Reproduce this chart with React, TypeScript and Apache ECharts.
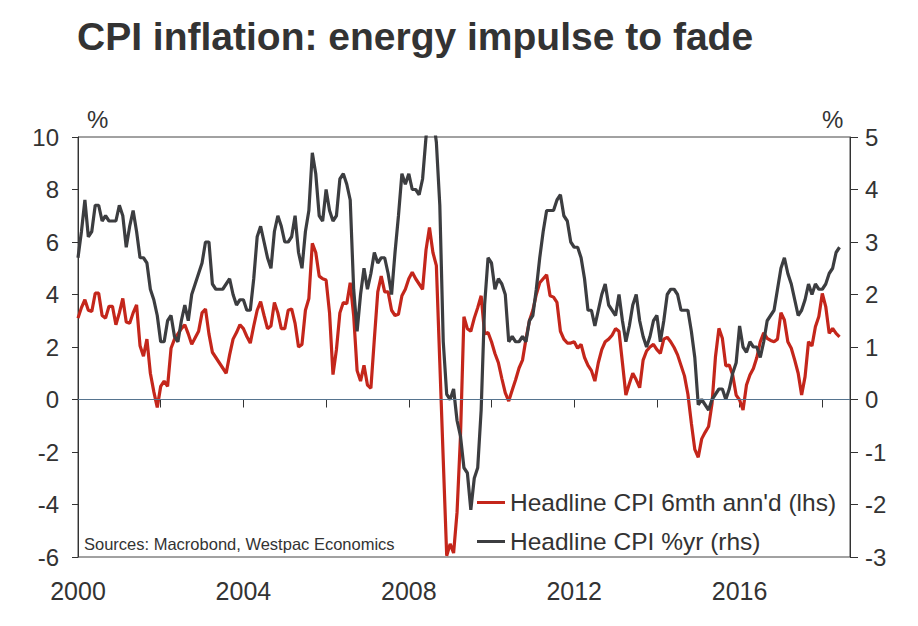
import React, { useEffect, useRef } from "react";
import * as echarts from "echarts";

const START_YEAR = 2000;

// Headline CPI 6mth annualised, % (lhs), monthly from Jan 2000
const headline6mAnn = [
  // 2000
  3.1, 3.5, 3.8, 3.4, 3.35, 4.05, 4.05, 3.2, 3.1, 3.55, 3.55, 2.85,
  // 2001
  3.3, 3.85, 2.95, 2.9, 3.3, 3.6, 2.05, 1.65, 2.3, 1.0, 0.3, -0.3,
  // 2002
  0.5, 0.7, 0.5, 1.95, 2.3, 2.5, 2.7, 2.85, 2.5, 2.1, 2.35, 2.6,
  // 2003
  3.3, 3.45, 2.5, 1.8, 1.6, 1.4, 1.2, 1.0, 1.7, 2.3, 2.55, 2.85,
  // 2004
  2.7, 2.4, 2.15, 2.8, 3.4, 3.73, 3.2, 2.7, 2.8, 3.7, 3.3, 2.7,
  // 2005
  2.7, 3.4, 3.45, 2.9, 2.0, 2.1, 3.4, 3.85, 5.95, 5.6, 4.7, 4.6,
  // 2006
  4.55, 3.3, 0.95, 1.9, 3.3, 3.7, 3.65, 4.45, 3.2, 1.1, 0.7, 1.3,
  // 2007
  0.55, 0.43, 2.3, 4.1, 4.7, 4.1, 4.1, 3.4, 3.2, 3.25, 3.95, 4.2,
  // 2008
  4.6, 4.85, 4.6, 4.4, 4.2, 5.7, 6.55, 5.6, 5.1, 1.4, -2.3, -5.95,
  // 2009
  -5.5, -5.85, -4.3, -1.4, 3.15, 2.7, 2.6, 3.1, 3.5, 3.95, 2.5, 2.55,
  // 2010
  2.2, 1.75, 1.4, 0.8, 0.25, -0.06, 0.35, 0.75, 1.2, 1.5, 2.3, 3.0,
  // 2011
  3.4, 4.0, 4.45, 4.6, 4.75, 3.95, 3.9, 3.7, 2.6, 2.3, 2.15, 2.15,
  // 2012
  2.2, 1.95, 2.1, 1.6, 1.3, 1.1, 0.7, 1.4, 1.9, 2.2, 2.3, 2.45,
  // 2013
  2.7, 2.6, 1.4, 0.17, 0.6, 1.0, 0.75, 0.45, 1.5, 1.85, 2.0, 2.1,
  // 2014
  1.9, 1.76, 2.3, 2.37, 2.2, 1.98, 1.7, 1.3, 0.9, 0.2, -0.9, -1.9,
  // 2015
  -2.2, -1.5, -1.25, -1.03, -0.15, 1.63, 2.71, 2.33, 1.28, 1.31, 0.93, 0.17,
  // 2016
  -0.02, -0.4, 0.55, 0.93, 1.18, 1.6, 2.2, 2.54, 2.33, 2.25, 2.2, 2.3,
  // 2017
  3.31, 3.03, 2.2, 1.95, 1.5, 1.0, 0.17, 0.87, 2.2, 2.04, 2.77, 3.16,
  // 2018
  4.04, 3.54, 2.52, 2.71, 2.52, 2.39,
];

// Headline CPI %yr (rhs), monthly from Jan 2000
const headlineYoY = [
  2.7, 3.2, 3.8, 3.1, 3.2, 3.7, 3.7, 3.4, 3.5, 3.4, 3.4, 3.4,
  3.7, 3.5, 2.9, 3.3, 3.6, 3.2, 2.7, 2.7, 2.6, 2.1, 1.9, 1.6,
  1.1, 1.1, 1.5, 1.6, 1.2, 1.1, 1.5, 1.8, 1.5, 2.0, 2.2, 2.4,
  2.6, 3.0, 3.0, 2.2, 2.1, 2.1, 2.1, 2.2, 2.3, 2.0, 1.8, 1.9,
  1.9, 1.7, 1.7, 2.3, 3.1, 3.3, 3.0, 2.7, 2.5, 3.2, 3.5, 3.3,
  3.0, 3.0, 3.1, 3.5, 2.8, 2.5, 3.2, 3.6, 4.7, 4.3, 3.5, 3.4,
  4.0, 3.6, 3.4, 3.5, 4.2, 4.3, 4.1, 3.8, 2.1, 1.3, 2.0, 2.5,
  2.1, 2.4, 2.8, 2.6, 2.7, 2.7, 2.4, 2.0, 2.8, 3.5, 4.3, 4.1,
  4.3, 4.0, 4.0, 3.9, 4.2, 5.0, 5.6, 5.4, 4.9, 3.7, 1.1, 0.1,
  0.0, 0.2, -0.4, -0.7, -1.3, -1.4, -2.1, -1.5, -1.3, -0.2, 1.8, 2.7,
  2.6, 2.1, 2.3, 2.2, 2.0, 1.1, 1.2, 1.1, 1.1, 1.2, 1.1, 1.5,
  1.6, 2.1, 2.7, 3.2, 3.6, 3.6, 3.6, 3.8, 3.9, 3.5, 3.4, 3.0,
  2.9, 2.9, 2.7, 2.3, 1.7, 1.7, 1.4, 1.7, 2.0, 2.2, 1.8, 1.7,
  1.6, 2.0, 1.5, 1.1, 1.4, 1.8, 2.0, 1.5, 1.2, 1.0, 1.2, 1.5,
  1.6, 1.1, 1.5, 2.0, 2.1, 2.1, 2.0, 1.7, 1.7, 1.7, 1.3, 0.8,
  -0.1, 0.0, -0.1, -0.2, 0.0, 0.1, 0.2, 0.2, 0.0, 0.2, 0.5, 0.7,
  1.4, 1.0, 0.9, 1.1, 1.0, 1.0, 0.8, 1.1, 1.5, 1.6, 1.7, 2.1,
  2.5, 2.7, 2.4, 2.2, 1.9, 1.6, 1.7, 1.9, 2.2, 2.0, 2.2, 2.1,
  2.1, 2.2, 2.4, 2.5, 2.8, 2.9,
];

const seriesNames = ["Headline CPI 6mth ann'd (lhs)", "Headline CPI %yr (rhs)"];
const titleText = "CPI inflation: energy impulse to fade";
const sourceText = "Sources: Macrobond, Westpac Economics";

const FONT = '"Liberation Sans", Arial, Helvetica, sans-serif';
const TEXT = "#333333";
const RED = "#c4261b";
const DARK = "#3c3d40";

const toPoints = (vals: number[]) =>
  vals.map((v, i) => [START_YEAR + i / 12, v]);

export default function App() {
  const ref = useRef<HTMLDivElement>(null);
  useEffect(() => {
    if (!ref.current) return;
    const chart = echarts.init(ref.current, null, { renderer: "svg" });
    const axisLabel = { fontSize: 24, color: TEXT, fontFamily: FONT };
    chart.setOption({
      animation: false,
      backgroundColor: "#ffffff",
      grid: {
        left: 78,
        right: 68,
        top: 137,
        bottom: 69,
        show: true,
        borderColor: "#444",
        borderWidth: 1,
        backgroundColor: "transparent",
      },
      xAxis: {
        type: "value",
        min: 2000,
        max: 2018.67,
        interval: 2,
        axisLine: { show: true, lineStyle: { color: "#333", width: 1 } },
        axisTick: { show: true, length: 8, lineStyle: { color: "#333" } },
        splitLine: { show: false },
        axisLabel: {
          ...axisLabel,
          fontSize: 25,
          margin: 21,
          showMaxLabel: false,
          formatter: (v: number) =>
            Math.abs(v % 4) < 1e-6 ? String(Math.round(v)) : "",
        },
      },
      yAxis: [
        {
          type: "value",
          min: -6,
          max: 10,
          interval: 2,
          position: "left",
          axisLine: { show: true, lineStyle: { color: "#333" } },
          axisTick: { show: true, length: 6, lineStyle: { color: "#333" } },
          splitLine: { show: false },
          axisLabel: { ...axisLabel, margin: 19 },
        },
        {
          type: "value",
          min: -3,
          max: 5,
          interval: 1,
          position: "right",
          axisLine: { show: true, lineStyle: { color: "#333" } },
          axisTick: { show: true, length: 8, lineStyle: { color: "#333" } },
          splitLine: { show: false },
          axisLabel: { ...axisLabel, margin: 15 },
        },
      ],
      legend: {
        orient: "vertical",
        left: 472,
        top: 485,
        itemWidth: 28,
        itemHeight: 3,
        itemGap: 14,
        icon: "rect",
        textStyle: { fontSize: 24.5, color: TEXT, fontFamily: FONT },
        data: seriesNames,
      },
      graphic: [
        {
          type: "text",
          left: 77,
          top: 17,
          style: {
            text: titleText,
            font: `bold 39px ${FONT}`,
            fill: TEXT,
          },
        },
        {
          type: "text",
          left: 87,
          top: 107,
          style: { text: "%", font: `24px ${FONT}`, fill: TEXT },
        },
        {
          type: "text",
          left: 822,
          top: 107,
          style: { text: "%", font: `24px ${FONT}`, fill: TEXT },
        },
        {
          type: "text",
          left: 84,
          top: 535,
          style: { text: sourceText, font: `16.5px ${FONT}`, fill: TEXT },
        },
      ],
      series: [
        {
          name: seriesNames[0],
          type: "line",
          yAxisIndex: 0,
          data: toPoints(headline6mAnn),
          showSymbol: false,
          clip: true,
          lineStyle: { color: RED, width: 3.2 },
          itemStyle: { color: RED },
          markLine: {
            silent: true,
            symbol: "none",
            label: { show: false },
            lineStyle: { color: "#56748f", width: 1, type: "solid" },
            data: [{ yAxis: 0 }],
          },
          z: 3,
        },
        {
          name: seriesNames[1],
          type: "line",
          yAxisIndex: 1,
          data: toPoints(headlineYoY),
          showSymbol: false,
          clip: true,
          lineStyle: { color: DARK, width: 3.2 },
          itemStyle: { color: DARK },
          z: 4,
        },
      ],
    });
    return () => chart.dispose();
  }, []);
  return (
    <div
      ref={ref}
      style={{ position: "fixed", left: 0, top: 0, width: 918, height: 626 }}
    />
  );
}
